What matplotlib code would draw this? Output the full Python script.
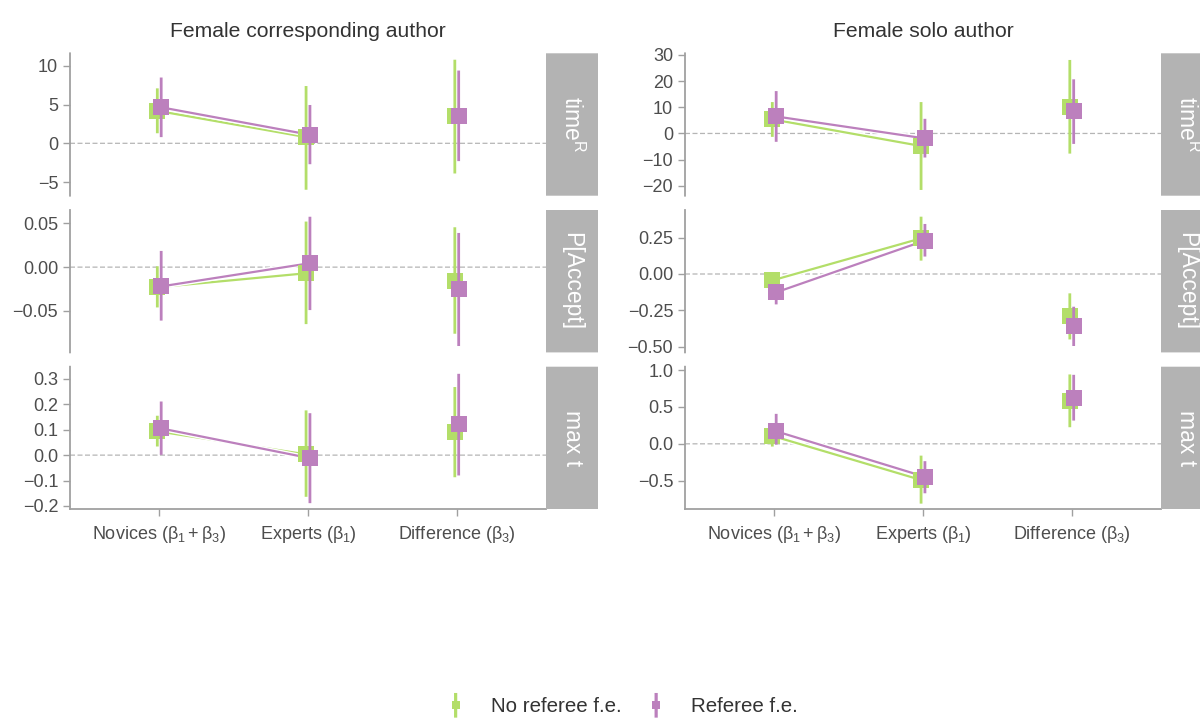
import matplotlib
matplotlib.use("Agg")
import matplotlib.pyplot as plt
import matplotlib.patheffects as pe
from matplotlib.legend_handler import HandlerErrorbar
from matplotlib.container import ErrorbarContainer
import numpy as np

plt.rcParams['font.family'] = ['Liberation Sans', 'DejaVu Sans']
plt.rcParams['mathtext.fontset'] = 'custom'
plt.rcParams['mathtext.rm'] = 'Liberation Sans'
plt.rcParams['mathtext.it'] = 'Liberation Sans'
plt.rcParams['mathtext.sf'] = 'Liberation Sans'
plt.rcParams['mathtext.bf'] = 'Liberation Sans:bold'
plt.rcParams['path.snap'] = False

# ---------------- data ----------------
authors = ['Female corresponding author', 'Female solo author']
outcomes = ['time$^{\\mathrm{R}}$', 'P[Accept]', 'max t']
categories = ['Novices ($\\beta_1+\\beta_3$)', 'Experts ($\\beta_1$)', 'Difference ($\\beta_3$)']
models = ['No referee f.e.', 'Referee f.e.']

# Female corresponding author
corr_time_nofe_est = [4.2, 0.8, 3.5]
corr_time_nofe_lo = [1.3, -6.0, -3.9]
corr_time_nofe_hi = [7.1, 7.4, 10.8]
corr_time_fe_est = [4.65, 1.1, 3.5]
corr_time_fe_lo = [0.8, -2.7, -2.3]
corr_time_fe_hi = [8.5, 4.95, 9.4]

corr_acc_nofe_est = [-0.023, -0.007, -0.016]
corr_acc_nofe_lo = [-0.046, -0.065, -0.076]
corr_acc_nofe_hi = [0.001, 0.052, 0.0455]
corr_acc_fe_est = [-0.022, 0.0045, -0.025]
corr_acc_fe_lo = [-0.061, -0.049, -0.090]
corr_acc_fe_hi = [0.0185, 0.0575, 0.039]

corr_maxt_nofe_est = [0.094, 0.003, 0.09]
corr_maxt_nofe_lo = [0.034, -0.164, -0.087]
corr_maxt_nofe_hi = [0.155, 0.176, 0.268]
corr_maxt_fe_est = [0.105, -0.012, 0.122]
corr_maxt_fe_lo = [0.001, -0.189, -0.08]
corr_maxt_fe_hi = [0.211, 0.165, 0.32]

# Female solo author
solo_time_nofe_est = [5.4, -4.8, 10.3]
solo_time_nofe_lo = [-1.3, -21.6, -7.7]
solo_time_nofe_hi = [12.0, 12.0, 28.1]
solo_time_fe_est = [6.5, -1.9, 8.4]
solo_time_fe_lo = [-3.2, -9.2, -4.0]
solo_time_fe_hi = [16.2, 5.6, 20.7]

solo_acc_nofe_est = [-0.044, 0.245, -0.29]
solo_acc_nofe_lo = [-0.09, 0.092, -0.45]
solo_acc_nofe_hi = [0.0, 0.394, -0.133]
solo_acc_fe_est = [-0.126, 0.23, -0.36]
solo_acc_fe_lo = [-0.209, 0.12, -0.495]
solo_acc_fe_hi = [-0.08, 0.344, -0.225]

solo_maxt_nofe_est = [0.108, -0.49, 0.58]
solo_maxt_nofe_lo = [-0.037, -0.81, 0.225]
solo_maxt_nofe_hi = [0.25, -0.16, 0.94]
solo_maxt_fe_est = [0.17, -0.447, 0.62]
solo_maxt_fe_lo = [-0.01, -0.67, 0.315]
solo_maxt_fe_hi = [0.406, -0.235, 0.935]

# tick values / labels per panel
corr_time_ticks = [-5, 0, 5, 10]
corr_time_labels = ['\u22125', '0', '5', '10']
corr_acc_ticks = [-0.05, 0.0, 0.05]
corr_acc_labels = ['\u22120.05', '0.00', '0.05']
corr_maxt_ticks = [-0.2, -0.1, 0.0, 0.1, 0.2, 0.3]
corr_maxt_labels = ['\u22120.2', '\u22120.1', '0.0', '0.1', '0.2', '0.3']
solo_time_ticks = [-20, -10, 0, 10, 20, 30]
solo_time_labels = ['\u221220', '\u221210', '0', '10', '20', '30']
solo_acc_ticks = [-0.5, -0.25, 0.0, 0.25]
solo_acc_labels = ['\u22120.50', '\u22120.25', '0.00', '0.25']
solo_maxt_ticks = [-0.5, 0.0, 0.5, 1.0]
solo_maxt_labels = ['\u22120.5', '0.0', '0.5', '1.0']

# ---------------- assemble ----------------
panels = {
    (0, 0): dict(nofe=(corr_time_nofe_est, corr_time_nofe_lo, corr_time_nofe_hi),
                 fe=(corr_time_fe_est, corr_time_fe_lo, corr_time_fe_hi),
                 ticks=corr_time_ticks, labels=corr_time_labels, ylim=(-6.77, 11.63)),
    (0, 1): dict(nofe=(corr_acc_nofe_est, corr_acc_nofe_lo, corr_acc_nofe_hi),
                 fe=(corr_acc_fe_est, corr_acc_fe_lo, corr_acc_fe_hi),
                 ticks=corr_acc_ticks, labels=corr_acc_labels, ylim=(-0.0973, 0.0652)),
    (0, 2): dict(nofe=(corr_maxt_nofe_est, corr_maxt_nofe_lo, corr_maxt_nofe_hi),
                 fe=(corr_maxt_fe_est, corr_maxt_fe_lo, corr_maxt_fe_hi),
                 ticks=corr_maxt_ticks, labels=corr_maxt_labels, ylim=(-0.212, 0.348)),
    (1, 0): dict(nofe=(solo_time_nofe_est, solo_time_nofe_lo, solo_time_nofe_hi),
                 fe=(solo_time_fe_est, solo_time_fe_lo, solo_time_fe_hi),
                 ticks=solo_time_ticks, labels=solo_time_labels, ylim=(-23.8, 30.65)),
    (1, 1): dict(nofe=(solo_acc_nofe_est, solo_acc_nofe_lo, solo_acc_nofe_hi),
                 fe=(solo_acc_fe_est, solo_acc_fe_lo, solo_acc_fe_hi),
                 ticks=solo_acc_ticks, labels=solo_acc_labels, ylim=(-0.539, 0.44)),
    (1, 2): dict(nofe=(solo_maxt_nofe_est, solo_maxt_nofe_lo, solo_maxt_nofe_hi),
                 fe=(solo_maxt_fe_est, solo_maxt_fe_lo, solo_maxt_fe_hi),
                 ticks=solo_maxt_ticks, labels=solo_maxt_labels, ylim=(-0.883, 1.045)),
}

GREEN = '#B3DE69'
PURPLE = '#BC80BD'
TXT = '#4D4D4D'
AXC = '#A0A0A0'
STRIP = '#B3B3B3'

W, H = 1200, 718
fig = plt.figure(figsize=(W / 100, H / 100), dpi=100)

col_x0 = [70, 685]
panel_w = 476
strip_w = 52
row_y = [(53.3, 195.7), (210.0, 352.4), (366.7, 509.0)]

x = np.arange(1, 4)
dodge = 0.013
legend_handles = []

for c in range(2):
    for r in range(3):
        p = panels[(c, r)]
        y0, y1 = row_y[r]
        ax = fig.add_axes([col_x0[c] / W, 1 - y1 / H, panel_w / W, (y1 - y0) / H])
        ax.set_xlim(0.4, 3.6)
        ax.set_ylim(*p['ylim'])
        ax.axhline(0, color='#B5B5B5', lw=0.9, ls=(0, (4, 2)), zorder=1)
        for key, col, off, z in (('nofe', GREEN, -dodge, 3), ('fe', PURPLE, dodge, 4)):
            est, lo, hi = p[key]
            xs = x + off
            ax.plot(xs[:2], est[:2], color=col, lw=1.6, zorder=2 + 0.1 * z, solid_capstyle='butt',
                    path_effects=[pe.Stroke(linewidth=3.6, foreground='white'), pe.Normal()])
            ax.vlines(xs, lo, hi, color=col, lw=2.0, zorder=z)
            ax.plot(xs, est, ls='none', marker='s', ms=12, mew=0, color=col, zorder=z)
            if c == 0 and r == 0:
                eb = ax.errorbar([np.nan], [np.nan], yerr=[[np.nan], [np.nan]], fmt='s',
                                 ms=5.5, mew=0, color=col, ecolor=col, elinewidth=2.3, capsize=0)
                legend_handles.append(eb)
        for s in ('top', 'right'):
            ax.spines[s].set_visible(False)
        ax.spines['left'].set_color(AXC)
        ax.spines['left'].set_linewidth(1.3)
        ax.set_yticks(p['ticks'])
        ax.set_yticklabels(p['labels'])
        ax.tick_params(axis='y', colors=AXC, labelcolor=TXT, labelsize=13, length=5, width=1)
        if r == 2:
            ax.spines['bottom'].set_color(AXC)
            ax.spines['bottom'].set_linewidth(1.3)
            ax.set_xticks(x)
            ax.set_xticklabels(categories)
            ax.tick_params(axis='x', colors=AXC, labelcolor=TXT, labelsize=13, length=5, width=1, pad=6)
        else:
            ax.spines['bottom'].set_visible(False)
            ax.set_xticks([])
        if r == 0:
            ax.set_title(authors[c], fontsize=15.2, color='#333333', pad=12)
        # strip
        sx = fig.add_axes([(col_x0[c] + panel_w) / W, 1 - y1 / H, strip_w / W, (y1 - y0) / H])
        sx.set_facecolor(STRIP)
        sx.set_xticks([]); sx.set_yticks([])
        for s in sx.spines.values():
            s.set_visible(False)
        sx.text(0.5, 0.5, outcomes[r], rotation=-90, ha='center', va='center',
                color='white', fontsize=16.5, transform=sx.transAxes)

# legend
fig.legend(legend_handles, models,
           handler_map={ErrorbarContainer: HandlerErrorbar(xerr_size=0.3, yerr_size=0.6)},
           loc='center', bbox_to_anchor=(0.518, 1 - 707 / H), ncol=2, frameon=False,
           fontsize=14.8, labelcolor='#333333', handlelength=1.0, handletextpad=1.2,
           columnspacing=1.2)

fig.savefig('out.png', dpi=100, facecolor='white')
